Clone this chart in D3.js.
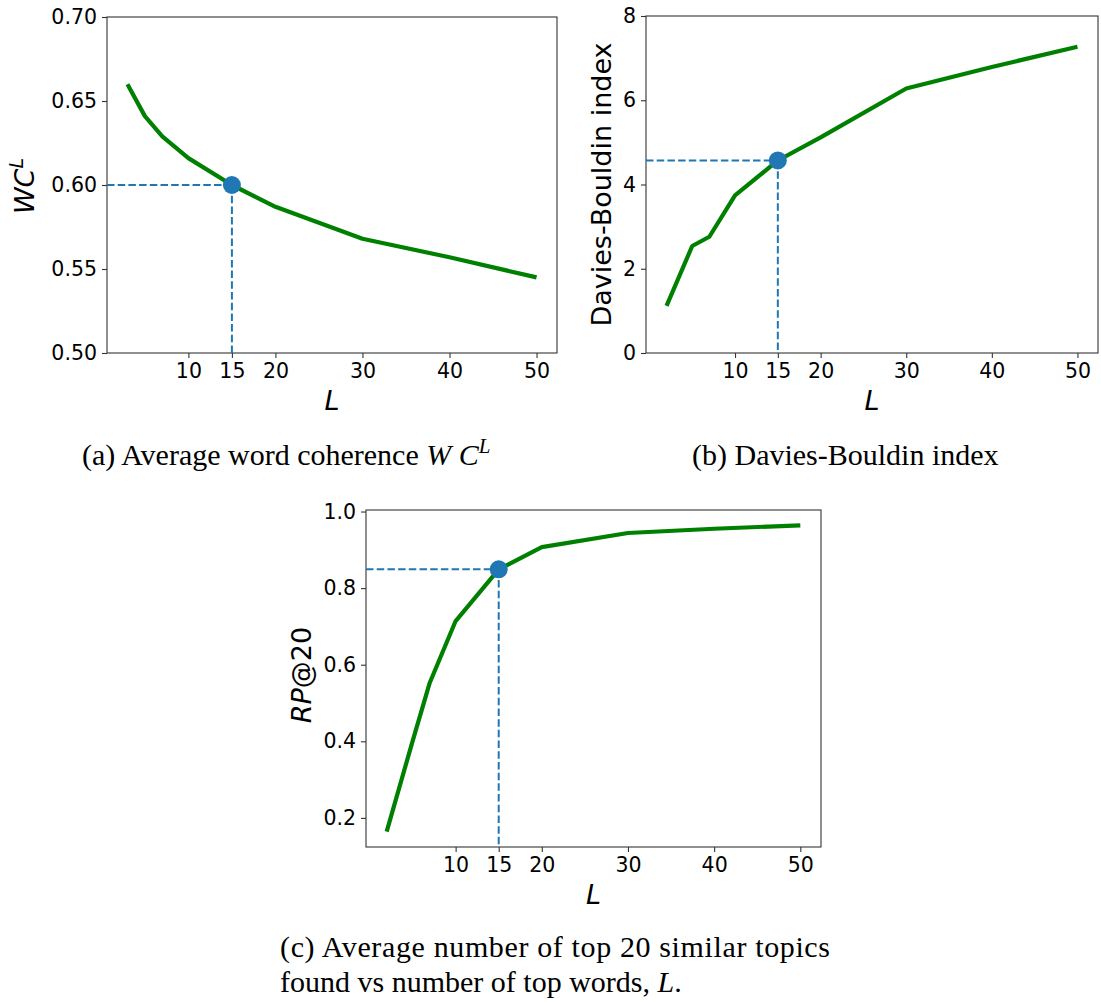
<!DOCTYPE html>
<html>
<head>
<meta charset="utf-8">
<script src="https://cdn.jsdelivr.net/npm/d3@7"></script>
<style>
  html, body { margin: 0; padding: 0; background: #fff; }
  svg { display: block; }
  .tick text { font-family: "DejaVu Sans", sans-serif; font-size: 20.5px; fill: #000; }
  .tick line { stroke: #333; stroke-width: 1.1; }
</style>
</head>
<body>
<svg id="chart" width="1101" height="1003"></svg>
<script>
// ---------------- data ----------------
const L_a = [3, 5, 7, 10, 15, 20, 30, 40, 50];
const wordCoherence = [0.660, 0.641, 0.629, 0.616, 0.600, 0.587, 0.568, 0.557, 0.545];

const L_b = [2, 5, 7, 10, 15, 20, 30, 40, 50];
const daviesBouldin = [1.12, 2.54, 2.76, 3.74, 4.57, 5.12, 6.28, 6.79, 7.27];

const L_c = [2, 5, 7, 10, 15, 20, 30, 40, 50];
const rpAt20 = [0.164, 0.40, 0.553, 0.714, 0.849, 0.907, 0.944, 0.955, 0.964];

const xTickValues = [10, 15, 20, 30, 40, 50];
const yTicksA = [0.50, 0.55, 0.60, 0.65, 0.70];
const yTicksB = [0, 2, 4, 6, 8];
const yTicksC = [0.2, 0.4, 0.6, 0.8, 1.0];
const selectedL = 15;

// ---------------- drawing ----------------
const svg = d3.select("#chart");
const LINE_GREEN = "#008000";
const BLUE = "#1f77b4";

function padded(ext) {
  const r = ext[1] - ext[0];
  return [ext[0] - 0.05 * r, ext[1] + 0.05 * r];
}

function drawPanel(cfg) {
  const g = svg.append("g");
  const xs = d3.scaleLinear().domain(padded(d3.extent(cfg.xs))).range([cfg.left, cfg.right]);
  const yDom = cfg.yDomain || padded(d3.extent(cfg.ys));
  const ys = d3.scaleLinear().domain(yDom).range([cfg.bottom, cfg.top]);

  // axes
  const ax = g.append("g").attr("transform", `translate(0,${cfg.bottom})`)
    .call(d3.axisBottom(xs).tickValues(xTickValues).tickSize(5).tickPadding(5).tickFormat(d3.format("d")));
  ax.select(".domain").remove();
  const ay = g.append("g").attr("transform", `translate(${cfg.left},0)`)
    .call(d3.axisLeft(ys).tickValues(cfg.yTicks).tickSize(5).tickPadding(5).tickFormat(d3.format(cfg.yFmt)));
  ay.select(".domain").remove();

  // frame
  g.append("rect")
    .attr("x", cfg.left).attr("y", cfg.top)
    .attr("width", cfg.right - cfg.left).attr("height", cfg.bottom - cfg.top)
    .attr("fill", "none").attr("stroke", "#333").attr("stroke-width", 1.1);

  // reference lines
  const idx = cfg.xs.indexOf(selectedL);
  const hx = xs(selectedL), hy = ys(cfg.ys[idx]);
  g.append("line").attr("x1", cfg.left).attr("x2", hx).attr("y1", hy).attr("y2", hy)
    .attr("stroke", BLUE).attr("stroke-width", 2).attr("stroke-dasharray", "7.5,3.2");
  g.append("line").attr("x1", hx).attr("x2", hx).attr("y1", hy).attr("y2", cfg.bottom)
    .attr("stroke", BLUE).attr("stroke-width", 2).attr("stroke-dasharray", "7.5,3.2");

  // line
  const pts = cfg.xs.map((x, i) => [x, cfg.ys[i]]);
  g.append("path").datum(pts)
    .attr("d", d3.line().x(d => xs(d[0])).y(d => ys(d[1])))
    .attr("fill", "none").attr("stroke", LINE_GREEN).attr("stroke-width", 4.2)
    .attr("stroke-linejoin", "round");

  // marker
  g.append("circle").attr("cx", hx).attr("cy", hy).attr("r", 9).attr("fill", BLUE);

  // x label
  g.append("text")
    .attr("x", (cfg.left + cfg.right) / 2).attr("y", cfg.bottom + 57)
    .attr("text-anchor", "middle")
    .style("font-family", "DejaVu Sans, sans-serif").style("font-size", "27px").style("font-style", "italic")
    .text("L");

  // y label
  const yl = g.append("text")
    .attr("transform", `translate(${cfg.yLabelX},${cfg.yLabelY || (cfg.top + cfg.bottom) / 2}) rotate(-90)`)
    .attr("text-anchor", "middle")
    .style("font-family", "DejaVu Sans, sans-serif").style("font-size", "27px");
  cfg.yLabel(yl);
}

drawPanel({
  left: 107, right: 557, top: 17, bottom: 353,
  xs: L_a, ys: wordCoherence, yDomain: [0.50, 0.70], yTicks: yTicksA, yFmt: ".2f",
  yLabelX: 34, yLabelY: 186,
  yLabel: t => {
    t.append("tspan").style("font-style", "italic").text("WC");
    t.append("tspan").style("font-style", "italic").style("font-size", "19px").attr("dy", -11).text("L");
  }
});

drawPanel({
  left: 646, right: 1098, top: 16, bottom: 353,
  xs: L_b, ys: daviesBouldin, yDomain: [0, 8], yTicks: yTicksB, yFmt: "d",
  yLabelX: 611,
  yLabel: t => { t.text("Davies-Bouldin index"); }
});

drawPanel({
  left: 366, right: 821, top: 510, bottom: 847,
  xs: L_c, ys: rpAt20, yDomain: null, yTicks: yTicksC, yFmt: ".1f",
  yLabelX: 311, yLabelY: 675,
  yLabel: t => {
    t.append("tspan").style("font-style", "italic").text("RP");
    t.append("tspan").text("@20");
  }
});

// ---------------- captions ----------------
const serif = "Liberation Serif, Times New Roman, serif";
function caption(x, y, parts, opts = {}) {
  const t = svg.append("text").attr("x", x).attr("y", y)
    .style("font-family", serif).style("font-size", "30px").attr("fill", "#000");
  if (opts.textLength) t.attr("textLength", opts.textLength).attr("lengthAdjust", "spacing");
  parts.forEach(p => {
    const s = t.append("tspan").text(p.t);
    if (p.i) s.style("font-style", "italic");
    if (p.sup) s.style("font-size", "21px").attr("dy", -12);
  });
  return t;
}
caption(82, 465, [{t: "(a) Average word coherence "}, {t: "W C", i: true}, {t: "L", i: true, sup: true}]);
caption(692, 465, [{t: "(b) Davies-Bouldin index"}]);
caption(280, 957, [{t: "(c) Average number of top 20 similar topics"}], {textLength: 550});
caption(280, 992, [{t: "found vs number of top words, "}, {t: "L", i: true}, {t: "."}]);
</script>
</body>
</html>
